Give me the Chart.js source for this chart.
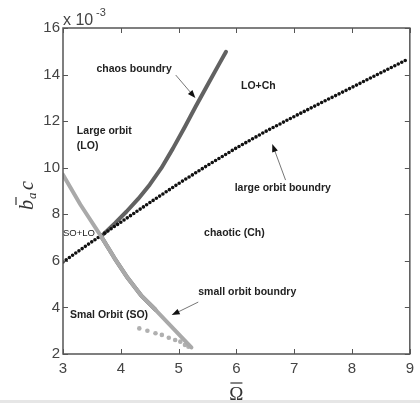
<!DOCTYPE html>
<html>
<head>
<meta charset="utf-8">
<script src="https://cdn.jsdelivr.net/npm/chart.js@4.4.1/dist/chart.umd.min.js"></script>
<style>
html,body{margin:0;padding:0;background:#fff;}
canvas{display:block;}
</style>
</head>
<body>
<canvas id="c" width="420" height="403"></canvas>
<script>
// ---- data (values in units of 1e-3 on the y axis) ----
const xTicks = [3, 4, 5, 6, 7, 8, 9];
const yTicks = [2, 4, 6, 8, 10, 12, 14, 16];

// small orbit boundary (light grey line)
const soOmega = [3.0, 3.3, 3.66, 3.89, 4.12, 4.35, 4.6, 4.86, 5.05, 5.22];
const soB     = [9.7, 8.42, 7.05, 6.12, 5.26, 4.52, 3.9, 3.22, 2.72, 2.28];

// small orbit boundary, dotted tail (light grey dots)
const soDotOmega = [4.32, 4.46, 4.60, 4.71, 4.83, 4.94, 5.03, 5.11, 5.17];
const soDotB     = [3.10, 3.00, 2.89, 2.82, 2.70, 2.60, 2.53, 2.39, 2.31];

// chaos boundary (dark grey line)
const chOmega = [4.6, 4.35, 4.12, 3.89, 3.66, 3.9, 4.1, 4.3, 4.5, 4.7, 4.9, 5.1, 5.3, 5.5, 5.7, 5.82];
const chB     = [3.9, 4.52, 5.26, 6.12, 7.05, 7.62, 8.12, 8.66, 9.27, 9.98, 10.82, 11.72, 12.65, 13.55, 14.45, 14.98];

// large orbit boundary (black dotted)
const loOmega = [3.0, 3.5, 4.0, 4.5, 5.0, 5.5, 6.0, 6.5, 7.0, 7.5, 8.0, 8.5, 8.98];
const loB     = [5.95, 6.82, 7.66, 8.5, 9.32, 10.1, 10.85, 11.55, 12.2, 12.83, 13.45, 14.08, 14.68];

// region labels and arrows (anchored in data coordinates)
const labels = [
  {t: 'chaos boundry',       x: 3.58, y: 14.24, bold: true},
  {t: 'Large orbit',         x: 3.24, y: 11.57, bold: true},
  {t: '(LO)',                x: 3.24, y: 10.93, bold: true},
  {t: 'LO+Ch',               x: 6.08, y: 13.51, bold: true},
  {t: 'large orbit boundry', x: 5.97, y: 9.13,  bold: true},
  {t: 'SO+LO',               x: 3.0,  y: 7.2,   bold: false},
  {t: 'chaotic (Ch)',        x: 5.44, y: 7.2,   bold: true},
  {t: 'small orbit boundry', x: 5.34, y: 4.66,  bold: true},
  {t: 'Smal Orbit (SO)',     x: 3.12, y: 3.67,  bold: true}
];
const arrows = [
  {x1: 4.95, y1: 13.98, x2: 5.29, y2: 12.99},
  {x1: 6.85, y1: 9.47,  x2: 6.62, y2: 11.02},
  {x1: 5.34, y1: 4.23,  x2: 4.88, y2: 3.67}
];

function pts(xs, ys){ return xs.map((x,i)=>({x:x, y:ys[i]})); }

const deco = {
  id: 'deco',
  beforeDraw(chart){
    const ctx = chart.ctx;
    ctx.save();
    ctx.fillStyle = '#fff';
    ctx.fillRect(0,0,chart.width,chart.height);
    ctx.fillStyle = '#e6e6e6';
    ctx.fillRect(0,400,chart.width,3);
    ctx.restore();
  },
  afterDraw(chart){
    const ctx = chart.ctx, a = chart.chartArea;
    const xs = chart.scales.x, ys = chart.scales.y;
    ctx.save();
    // box
    ctx.strokeStyle = '#555';
    ctx.lineWidth = 1.5;
    ctx.strokeRect(a.left, a.top, a.right-a.left, a.bottom-a.top);
    // inward ticks
    ctx.lineWidth = 1;
    ctx.beginPath();
    xTicks.forEach(v=>{
      const p = Math.round(xs.getPixelForValue(v))+0.5;
      ctx.moveTo(p, a.bottom); ctx.lineTo(p, a.bottom-5);
      ctx.moveTo(p, a.top); ctx.lineTo(p, a.top+5);
    });
    yTicks.forEach(v=>{
      const p = Math.round(ys.getPixelForValue(v))+0.5;
      ctx.moveTo(a.left, p); ctx.lineTo(a.left+5, p);
      ctx.moveTo(a.right, p); ctx.lineTo(a.right-5, p);
    });
    ctx.stroke();

    // labels
    ctx.fillStyle = '#222';
    ctx.textBaseline = 'middle';
    ctx.textAlign = 'left';
    labels.forEach(l=>{
      ctx.font = (l.bold ? 'bold 10.5px' : '9.5px') + ' "Liberation Sans", Arial, sans-serif';
      ctx.fillText(l.t, xs.getPixelForValue(l.x), ys.getPixelForValue(l.y));
    });

    // arrows
    arrows.forEach(r=>{
      const x1 = xs.getPixelForValue(r.x1), y1 = ys.getPixelForValue(r.y1);
      const x2 = xs.getPixelForValue(r.x2), y2 = ys.getPixelForValue(r.y2);
      const ang = Math.atan2(y2-y1, x2-x1);
      ctx.strokeStyle = '#777';
      ctx.lineWidth = 1;
      ctx.beginPath(); ctx.moveTo(x1,y1); ctx.lineTo(x2-5*Math.cos(ang), y2-5*Math.sin(ang)); ctx.stroke();
      ctx.fillStyle = '#111';
      ctx.beginPath();
      ctx.moveTo(x2, y2);
      ctx.lineTo(x2-8*Math.cos(ang)+3*Math.sin(ang), y2-8*Math.sin(ang)-3*Math.cos(ang));
      ctx.lineTo(x2-8*Math.cos(ang)-3*Math.sin(ang), y2-8*Math.sin(ang)+3*Math.cos(ang));
      ctx.closePath(); ctx.fill();
    });

    // exponent label
    ctx.fillStyle = '#444';
    ctx.textBaseline = 'alphabetic';
    ctx.font = '16px "Liberation Sans", Arial, sans-serif';
    ctx.fillText('x 10', a.left, a.top-3);
    ctx.font = '11px "Liberation Sans", Arial, sans-serif';
    ctx.fillText('-3', a.left+33, a.top-12);

    // x title: Omega with bar
    const cx = (a.left+a.right)/2;
    ctx.fillStyle = '#333';
    ctx.textAlign = 'center';
    ctx.font = '19px "Liberation Serif", "DejaVu Serif", serif';
    ctx.fillText('\u03A9', cx, 400);
    ctx.strokeStyle = '#333';
    ctx.lineWidth = 1.2;
    ctx.beginPath(); ctx.moveTo(cx-6, 383); ctx.lineTo(cx+6, 383); ctx.stroke();

    // y title: b-bar subscript a, c (rotated)
    ctx.translate(33, 210);
    ctx.rotate(-Math.PI/2);
    ctx.textAlign = 'left';
    ctx.font = 'italic 20px "Liberation Serif", "DejaVu Serif", serif';
    ctx.fillText('b', 0, 0);
    ctx.beginPath(); ctx.moveTo(5, -17); ctx.lineTo(13, -17); ctx.stroke();
    ctx.font = 'italic 13px "Liberation Serif", "DejaVu Serif", serif';
    ctx.fillText('a', 11, 3);
    ctx.font = 'italic 20px "Liberation Serif", "DejaVu Serif", serif';
    ctx.fillText('c', 20, 0);
    ctx.restore();
  }
};

new Chart(document.getElementById('c'), {
  type: 'scatter',
  data: {
    datasets: [
      {label: 'small orbit boundry', data: pts(soOmega, soB), showLine: true,
       borderColor: '#a9a9a9', borderWidth: 4, pointRadius: 0, borderCapStyle: 'round', borderJoinStyle: 'round'},
      {label: 'small orbit dots', data: pts(soDotOmega, soDotB), showLine: false,
       pointRadius: 2.3, pointBackgroundColor: '#b0b0b0', pointBorderWidth: 0, borderColor: '#b0b0b0'},
      {label: 'large orbit boundry', data: pts(loOmega, loB), showLine: true,
       borderColor: '#111', borderWidth: 3.6, pointRadius: 0, borderDash: [0, 3.9], borderCapStyle: 'round'},
      {label: 'chaos boundry', data: pts(chOmega, chB), showLine: true,
       borderColor: '#626262', borderWidth: 4, pointRadius: 0, borderCapStyle: 'round', borderJoinStyle: 'round'}
    ]
  },
  options: {
    responsive: false,
    devicePixelRatio: 1,
    animation: false,
    layout: {padding: {top: 28, right: 6, left: 0, bottom: 0}},
    plugins: {legend: {display: false}, tooltip: {enabled: false}},
    scales: {
      x: {
        type: 'linear', min: 3, max: 9,
        afterBuildTicks: s => { s.ticks = xTicks.map(v=>({value:v})); },
        afterFit: s => { s.height = 49; },
        grid: {display: false, drawTicks: false},
        border: {display: false},
        ticks: {color: '#444', padding: 6, font: {size: 15, family: '"Liberation Sans", Arial, sans-serif'}}
      },
      y: {
        type: 'linear', min: 2, max: 16,
        afterBuildTicks: s => { s.ticks = yTicks.map(v=>({value:v})); },
        afterFit: s => { s.width = 63; },
        grid: {display: false, drawTicks: false},
        border: {display: false},
        ticks: {color: '#444', padding: 3, font: {size: 15, family: '"Liberation Sans", Arial, sans-serif'}}
      }
    }
  },
  plugins: [deco]
});
</script>
</body>
</html>
